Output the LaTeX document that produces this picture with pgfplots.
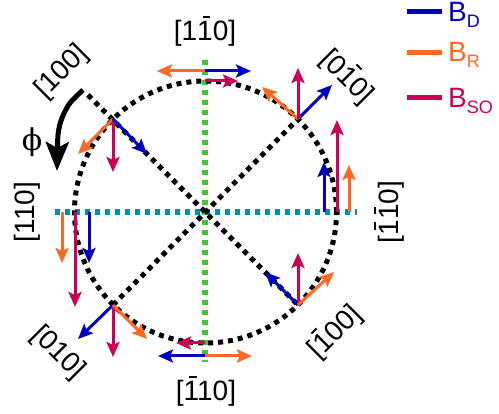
\documentclass[border=0pt]{standalone}
\usepackage{pgfplots}
\pgfplotsset{compat=1.18}
\usepackage{fontspec}
\setmainfont{Liberation Sans}
\newfontfamily\phifont{DejaVu Serif}
\usetikzlibrary{arrows.meta}
\definecolor{cD}{RGB}{0,0,195}
\definecolor{cR}{RGB}{255,104,32}
\definecolor{cSO}{RGB}{204,0,85}
\definecolor{cG}{RGB}{70,196,60}
\definecolor{cT}{RGB}{0,145,170}
\newcommand\lab{\fontsize{28bp}{30bp}\selectfont}
\newcommand\ob[1]{\makebox[0pt][l]{\hspace{0.2em}\raisebox{0.8em}{\rule{0.26em}{0.07em}}}#1}
\newcommand\sub[1]{\raisebox{-6bp}{\fontsize{18bp}{20bp}\selectfont #1}}
\tikzset{
  vec/.style={line width=3bp, -{Stealth[length=15bp,width=13bp,inset=3bp]}},
  dots/.style={line width=5bp, dash pattern=on 5bp off 5bp},
}
\begin{document}
\begin{tikzpicture}
\begin{axis}[
  scale only axis, width=499bp, height=414bp,
  xmin=0, xmax=499, ymin=-414, ymax=0,
  hide axis, clip=false,
]
\path (axis cs:0,-414) rectangle (axis cs:499,0);
% dotted guide lines
\addplot[cG, line width=6bp, dash pattern=on 5bp off 5bp] coordinates {(205,-60) (205,-362)};
\addplot[cT, line width=6bp, dash pattern=on 5bp off 5bp] coordinates {(55,-212) (357,-212)};
\addplot[black, dots] coordinates {(88,-95) (298,-305)};
\addplot[black, dots] coordinates {(113,-305) (298,-119)};
\draw[black, dots] (axis cs:205.5,-212) circle[radius=131bp];
% phi arrow
\addplot[black, line width=5bp, smooth, -{Stealth[length=29bp,width=23bp,inset=6bp]}] coordinates {(83,-90) (70,-103) (62,-118) (58,-135) (57,-171)};
% top
\addplot[vec,cR] coordinates {(205,-71) (157,-71)};
\addplot[vec,cD] coordinates {(205,-71) (251,-71)};
\addplot[vec,cSO] coordinates {(205,-81) (238,-81)};
% upper right
\addplot[vec,cR] coordinates {(298,-119) (262,-87)};
\addplot[vec,cD] coordinates {(298,-119) (332,-85)};
\addplot[vec,cSO] coordinates {(298,-119) (298,-68)};
% right
\addplot[vec,cD] coordinates {(324,-212) (324,-162)};
\addplot[vec,cSO] coordinates {(337,-212) (337,-120)};
\addplot[vec,cR] coordinates {(349,-212) (349,-165)};
% lower right
\addplot[vec,cSO] coordinates {(298,-305) (298,-253)};
\addplot[vec,cD] coordinates {(298,-305) (265,-272)};
\addplot[vec,cR] coordinates {(298,-305) (334,-272)};
% bottom
\addplot[vec,cD] coordinates {(205,-356) (158,-356)};
\addplot[vec,cR] coordinates {(205,-356) (252,-356)};
\addplot[vec,cSO] coordinates {(205,-343) (176,-343)};
% lower left
\addplot[vec,cD] coordinates {(113,-305) (78,-339)};
\addplot[vec,cSO] coordinates {(113,-305) (113,-357)};
\addplot[vec,cR] coordinates {(113,-305) (147,-339)};
% left
\addplot[vec,cR] coordinates {(62,-212) (62,-263)};
\addplot[vec,cSO] coordinates {(75,-212) (75,-307)};
\addplot[vec,cD] coordinates {(89,-212) (89,-263)};
% upper left
\addplot[vec,cR] coordinates {(113,-119) (78,-154)};
\addplot[vec,cSO] coordinates {(113,-119) (113,-172)};
\addplot[vec,cD] coordinates {(113,-119) (147,-154)};
% legend
\addplot[cD, line width=5bp] coordinates {(407,-12) (442,-12)};
\addplot[cR, line width=5bp] coordinates {(407,-53) (442,-53)};
\addplot[cSO, line width=5bp] coordinates {(407,-98) (442,-98)};
\node[anchor=base west, inner sep=0, text=cD, font=\lab] at (axis cs:448,-22) {B\sub{D}};
\node[anchor=base west, inner sep=0, text=cR, font=\lab] at (axis cs:448,-62) {B\sub{R}};
\node[anchor=base west, inner sep=0, text=cSO, font=\lab] at (axis cs:448,-108) {B\sub{SO}};
% labels
\node[inner sep=0, font=\lab] at (axis cs:205,-31) {[1\ob{1}0]};
\node[inner sep=0, font=\lab] at (axis cs:206,-391) {[\ob{1}10]};
\node[inner sep=0, font=\lab, rotate=90] at (axis cs:27,-212) {[110]};
\node[inner sep=0, font=\lab, rotate=90] at (axis cs:389,-212) {[\ob{1}\ob{1}0]};
\node[inner sep=0, font=\lab, rotate=45] at (axis cs:62,-72) {[100]};
\node[inner sep=0, font=\lab, rotate=-45] at (axis cs:348,-76) {[0\ob{1}0]};
\node[inner sep=0, font=\lab, rotate=45] at (axis cs:334,-331) {[\ob{1}00]};
\node[inner sep=0, font=\lab, rotate=-45] at (axis cs:58,-353) {[010]};
\node[inner sep=0, font=\phifont\fontsize{30bp}{32bp}\selectfont] at (axis cs:32,-142) {ϕ};
\end{axis}
\end{tikzpicture}
\end{document}
